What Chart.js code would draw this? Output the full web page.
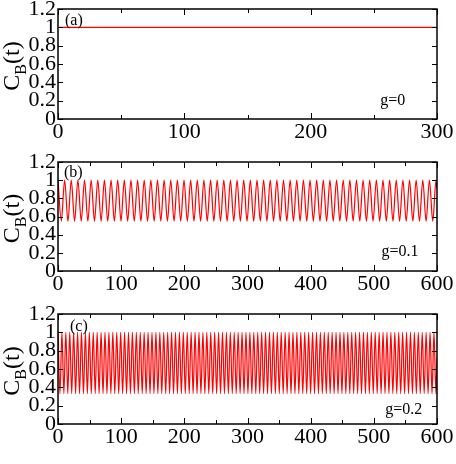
<!DOCTYPE html>
<html>
<head>
<meta charset="utf-8">
<script src="https://cdn.jsdelivr.net/npm/chart.js@4.4.1/dist/chart.umd.min.js"></script>
<style>
  html, body { margin: 0; padding: 0; background: #fff; }
  #wrap { position: relative; width: 456px; height: 464px; overflow: hidden; }
  #wrap canvas { position: absolute; left: 0; }
</style>
</head>
<body>
<div id="wrap">
  <canvas id="cA" width="456" height="150" style="top:0px"></canvas>
  <canvas id="cB" width="456" height="155" style="top:150px"></canvas>
  <canvas id="cC" width="456" height="159" style="top:305px"></canvas>
</div>
<script>
// --- dados ---
const panelNames = ['(a)', '(b)', '(c)'];
const gLabels = ['g=0', 'g=0.1', 'g=0.2'];
const xMax = [300, 600, 600];
const yTicks = [0, 0.2, 0.4, 0.6, 0.8, 1, 1.2];

// (a) g=0 : constante
const tA = [0, 300];
const yA = [1, 1];

// (b) g=0.1 : picos e vales
const tB = [
  0, 5.25, 10.5, 15.75, 21, 26.25, 31.5, 36.75, 42, 47.25,
  52.5, 57.75, 63, 68.25, 73.5, 78.75, 84, 89.25, 94.5, 99.75,
  105, 110.25, 115.5, 120.75, 126, 131.25, 136.5, 141.75, 147, 152.25,
  157.5, 162.75, 168, 173.25, 178.5, 183.75, 189, 194.25, 199.5, 204.75,
  210, 215.25, 220.5, 225.75, 231, 236.25, 241.5, 246.75, 252, 257.25,
  262.5, 267.75, 273, 278.25, 283.5, 288.75, 294, 299.25, 304.5, 309.75,
  315, 320.25, 325.5, 330.75, 336, 341.25, 346.5, 351.75, 357, 362.25,
  367.5, 372.75, 378, 383.25, 388.5, 393.75, 399, 404.25, 409.5, 414.75,
  420, 425.25, 430.5, 435.75, 441, 446.25, 451.5, 456.75, 462, 467.25,
  472.5, 477.75, 483, 488.25, 493.5, 498.75, 504, 509.25, 514.5, 519.75,
  525, 530.25, 535.5, 540.75, 546, 551.25, 556.5, 561.75, 567, 572.25,
  577.5, 582.75, 588, 593.25, 598.5, 600
];
const yB = [
  1, 0.55, 1, 0.55, 1, 0.55, 1, 0.55, 1, 0.55,
  1, 0.55, 1, 0.55, 1, 0.55, 1, 0.55, 1, 0.55,
  1, 0.55, 1, 0.55, 1, 0.55, 1, 0.55, 1, 0.55,
  1, 0.55, 1, 0.55, 1, 0.55, 1, 0.55, 1, 0.55,
  1, 0.55, 1, 0.55, 1, 0.55, 1, 0.55, 1, 0.55,
  1, 0.55, 1, 0.55, 1, 0.55, 1, 0.55, 1, 0.55,
  1, 0.55, 1, 0.55, 1, 0.55, 1, 0.55, 1, 0.55,
  1, 0.55, 1, 0.55, 1, 0.55, 1, 0.55, 1, 0.55,
  1, 0.55, 1, 0.55, 1, 0.55, 1, 0.55, 1, 0.55,
  1, 0.55, 1, 0.55, 1, 0.55, 1, 0.55, 1, 0.55,
  1, 0.55, 1, 0.55, 1, 0.55, 1, 0.55, 1, 0.55,
  1, 0.55, 1, 0.55, 1, 0.91
];

// (c) g=0.2 : picos e vales
const tC = [
  0, 3.1, 6.2, 9.3, 12.4, 15.5, 18.6, 21.7, 24.8, 27.9,
  31, 34.1, 37.2, 40.3, 43.4, 46.5, 49.6, 52.7, 55.8, 58.9,
  62, 65.1, 68.2, 71.3, 74.4, 77.5, 80.6, 83.7, 86.8, 89.9,
  93, 96.1, 99.2, 102.3, 105.4, 108.5, 111.6, 114.7, 117.8, 120.9,
  124, 127.1, 130.2, 133.3, 136.4, 139.5, 142.6, 145.7, 148.8, 151.9,
  155, 158.1, 161.2, 164.3, 167.4, 170.5, 173.6, 176.7, 179.8, 182.9,
  186, 189.1, 192.2, 195.3, 198.4, 201.5, 204.6, 207.7, 210.8, 213.9,
  217, 220.1, 223.2, 226.3, 229.4, 232.5, 235.6, 238.7, 241.8, 244.9,
  248, 251.1, 254.2, 257.3, 260.4, 263.5, 266.6, 269.7, 272.8, 275.9,
  279, 282.1, 285.2, 288.3, 291.4, 294.5, 297.6, 300.7, 303.8, 306.9,
  310, 313.1, 316.2, 319.3, 322.4, 325.5, 328.6, 331.7, 334.8, 337.9,
  341, 344.1, 347.2, 350.3, 353.4, 356.5, 359.6, 362.7, 365.8, 368.9,
  372, 375.1, 378.2, 381.3, 384.4, 387.5, 390.6, 393.7, 396.8, 399.9,
  403, 406.1, 409.2, 412.3, 415.4, 418.5, 421.6, 424.7, 427.8, 430.9,
  434, 437.1, 440.2, 443.3, 446.4, 449.5, 452.6, 455.7, 458.8, 461.9,
  465, 468.1, 471.2, 474.3, 477.4, 480.5, 483.6, 486.7, 489.8, 492.9,
  496, 499.1, 502.2, 505.3, 508.4, 511.5, 514.6, 517.7, 520.8, 523.9,
  527, 530.1, 533.2, 536.3, 539.4, 542.5, 545.6, 548.7, 551.8, 554.9,
  558, 561.1, 564.2, 567.3, 570.4, 573.5, 576.6, 579.7, 582.8, 585.9,
  589, 592.1, 595.2, 598.3, 600
];
const yC = [
  1, 0.33, 1, 0.33, 1, 0.33, 1, 0.33, 1, 0.33,
  1, 0.33, 1, 0.33, 1, 0.33, 1, 0.33, 1, 0.33,
  1, 0.33, 1, 0.33, 1, 0.33, 1, 0.33, 1, 0.33,
  1, 0.33, 1, 0.33, 1, 0.33, 1, 0.33, 1, 0.33,
  1, 0.33, 1, 0.33, 1, 0.33, 1, 0.33, 1, 0.33,
  1, 0.33, 1, 0.33, 1, 0.33, 1, 0.33, 1, 0.33,
  1, 0.33, 1, 0.33, 1, 0.33, 1, 0.33, 1, 0.33,
  1, 0.33, 1, 0.33, 1, 0.33, 1, 0.33, 1, 0.33,
  1, 0.33, 1, 0.33, 1, 0.33, 1, 0.33, 1, 0.33,
  1, 0.33, 1, 0.33, 1, 0.33, 1, 0.33, 1, 0.33,
  1, 0.33, 1, 0.33, 1, 0.33, 1, 0.33, 1, 0.33,
  1, 0.33, 1, 0.33, 1, 0.33, 1, 0.33, 1, 0.33,
  1, 0.33, 1, 0.33, 1, 0.33, 1, 0.33, 1, 0.33,
  1, 0.33, 1, 0.33, 1, 0.33, 1, 0.33, 1, 0.33,
  1, 0.33, 1, 0.33, 1, 0.33, 1, 0.33, 1, 0.33,
  1, 0.33, 1, 0.33, 1, 0.33, 1, 0.33, 1, 0.33,
  1, 0.33, 1, 0.33, 1, 0.33, 1, 0.33, 1, 0.33,
  1, 0.33, 1, 0.33, 1, 0.33, 1, 0.33, 1, 0.33,
  1, 0.33, 1, 0.33, 1, 0.33, 1, 0.33, 1, 0.33,
  1, 0.33, 1, 0.33, 0.72
];

// posição dos textos (em coordenadas dos dados)
const panelPos = [[5.5, 1.03], [9.5, 1.03], [19, 1.02]];
const gPos = [[255, 0.15], [512, 0.165], [518, 0.11]];

const SERIF = '"Liberation Serif", "Times New Roman", serif';
Chart.defaults.font.family = SERIF;

// plugin: moldura, ticks para dentro, rótulos e título do eixo y
const molduraPlugin = {
  id: 'moldura',
  afterDatasetsDraw(chart, args, opts) {
    const { ctx, chartArea: a, scales: { x, y } } = chart;
    ctx.save();
    ctx.strokeStyle = '#000';
    ctx.lineWidth = 1;
    ctx.beginPath();
    const xt = x.ticks.map(t => t.value);
    xt.forEach((v, i) => {
      const px = Math.round(x.getPixelForValue(v)) + 0.5;
      ctx.moveTo(px, a.bottom); ctx.lineTo(px, a.bottom - 6);
      ctx.moveTo(px, a.top); ctx.lineTo(px, a.top + 6);
      if (i < xt.length - 1) {
        const pm = Math.round(x.getPixelForValue((v + xt[i + 1]) / 2)) + 0.5;
        ctx.moveTo(pm, a.bottom); ctx.lineTo(pm, a.bottom - 4);
        ctx.moveTo(pm, a.top); ctx.lineTo(pm, a.top + 4);
      }
    });
    y.ticks.forEach(t => {
      const py = Math.round(y.getPixelForValue(t.value)) + 0.5;
      ctx.moveTo(a.left, py); ctx.lineTo(a.left + 5, py);
      ctx.moveTo(a.right, py); ctx.lineTo(a.right - 5, py);
    });
    ctx.stroke();
    ctx.lineWidth = 1.5;
    ctx.strokeRect(a.left, a.top, a.right - a.left, a.bottom - a.top);

    // rótulos do painel
    ctx.fillStyle = '#000';
    ctx.textBaseline = 'alphabetic';
    ctx.textAlign = 'left';
    ctx.font = '16px ' + SERIF;
    ctx.fillText(opts.panel, x.getPixelForValue(opts.panelAt[0]), y.getPixelForValue(opts.panelAt[1]));
    ctx.fillText(opts.g, x.getPixelForValue(opts.gAt[0]), y.getPixelForValue(opts.gAt[1]));

    // título do eixo x (só no último painel)
    if (opts.xTitle) {
      ctx.font = '24px ' + SERIF;
      ctx.textAlign = 'center';
      ctx.fillText(opts.xTitle, (a.left + a.right) / 2, x.bottom + 36);
    }

    // título do eixo y: C_B(t)
    ctx.translate(19, (a.top + a.bottom) / 2 + 2);
    ctx.rotate(-Math.PI / 2);
    ctx.textAlign = 'left';
    const fBig = '24px ' + SERIF, fSmall = '16px ' + SERIF;
    ctx.font = fBig; const wC = ctx.measureText('C').width; const wT = ctx.measureText('(t)').width;
    ctx.font = fSmall; const wB = ctx.measureText('B').width;
    let sx = -(wC + wB + wT) / 2;
    ctx.font = fBig; ctx.fillText('C', sx, 0);
    ctx.font = fSmall; ctx.fillText('B', sx + wC, 7);
    ctx.font = fBig; ctx.fillText('(t)', sx + wC + wB, 0);
    ctx.restore();
  }
};

function criarPainel(id, idx, ts, ys, opcoes) {
  const pontos = ts.map((t, i) => ({ x: t, y: ys[i] }));
  return new Chart(document.getElementById(id), {
    type: 'line',
    data: {
      datasets: [{
        data: pontos,
        borderColor: '#ff0000',
        borderWidth: 1.2,
        pointRadius: 0,
        fill: false,
        cubicInterpolationMode: 'monotone'
      }]
    },
    plugins: [molduraPlugin],
    options: {
      responsive: false,
      animation: false,
      devicePixelRatio: 1,
      layout: { padding: { top: opcoes.top, right: 19, left: 0, bottom: 0 } },
      plugins: {
        legend: { display: false },
        tooltip: { enabled: false },
        moldura: {
          panel: panelNames[idx],
          panelAt: panelPos[idx],
          g: gLabels[idx],
          gAt: gPos[idx],
          xTitle: opcoes.xTitle || ''
        }
      },
      scales: {
        x: {
          type: 'linear',
          min: 0,
          max: xMax[idx],
          grid: { display: false, drawTicks: false },
          border: { display: false },
          ticks: {
            stepSize: 100,
            padding: 0,
            maxRotation: 0,
            autoSkip: false,
            color: '#000',
            font: { family: SERIF, size: 22 }
          },
          afterFit(scale) {
            scale.height = opcoes.xh;
            scale.paddingLeft = 0; scale.paddingRight = 0;
          }
        },
        y: {
          min: 0,
          max: 1.2,
          afterBuildTicks(scale) {
            scale.ticks = yTicks.map(v => ({ value: v }));
          },
          grid: { display: false, drawTicks: false },
          border: { display: false },
          ticks: {
            padding: 2,
            autoSkip: false,
            color: '#000',
            font: { family: SERIF, size: 22 },
            callback: v => String(+v.toFixed(1))
          },
          afterFit(scale) {
            scale.width = 58;
            scale.paddingTop = 0; scale.paddingBottom = 0;
          }
        }
      }
    }
  });
}

criarPainel('cA', 0, tA, yA, { top: 9, xh: 31 });
criarPainel('cB', 1, tB, yB, { top: 12, xh: 34 });
criarPainel('cC', 2, tC, yC, { top: 9, xh: 40, xTitle: 't' });
</script>
</body>
</html>
